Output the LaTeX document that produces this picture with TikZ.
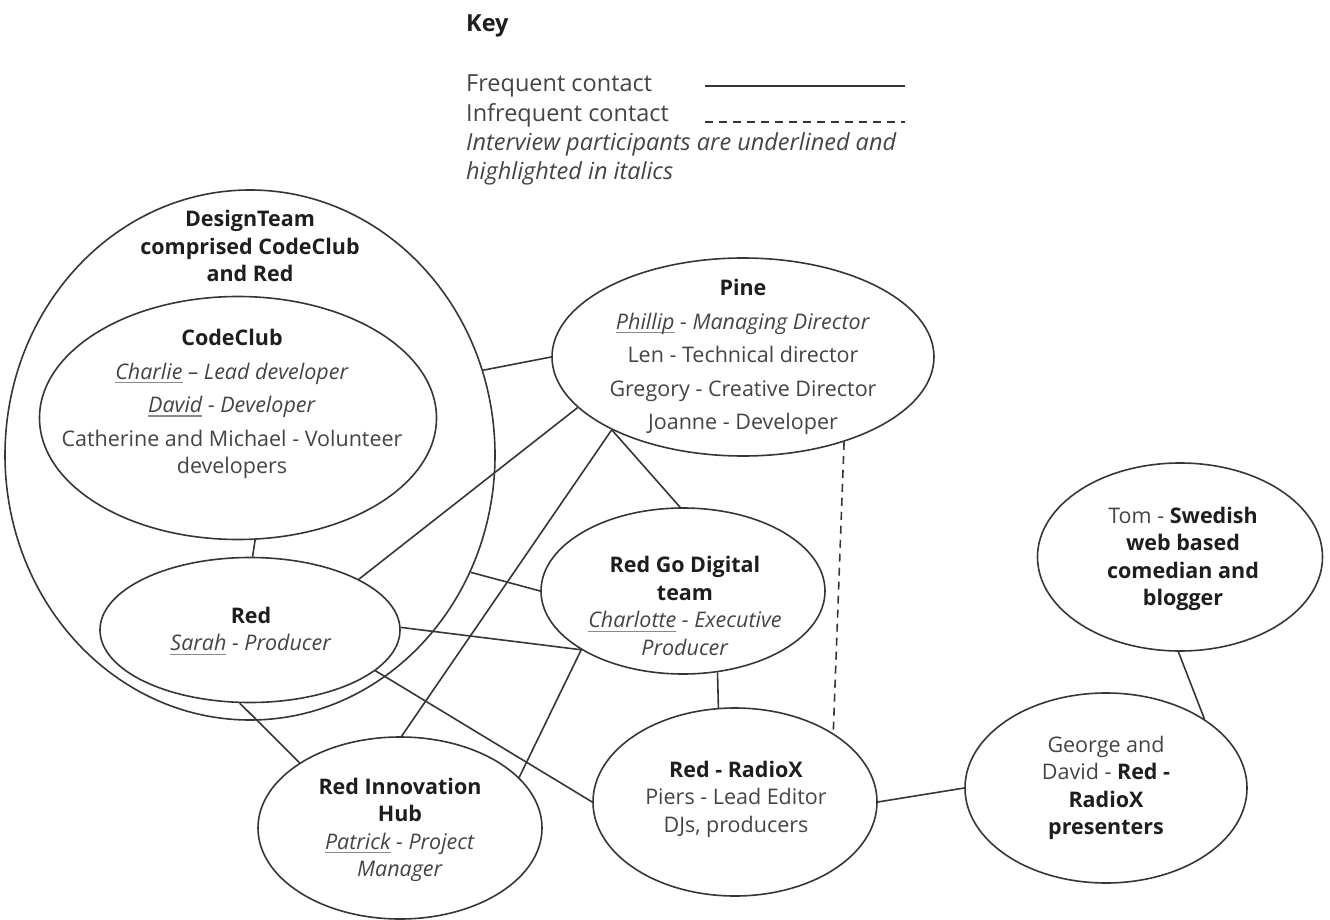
\documentclass[tikz,border=0pt]{standalone}
\usepackage{fontspec}
\setmainfont{Open Sans}
\usetikzlibrary{shapes.geometric}

\definecolor{linecol}{HTML}{363636}
\definecolor{txtcol}{HTML}{444444}
\definecolor{boldcol}{HTML}{1E1E1E}
\definecolor{ulcol}{HTML}{8A8A8A}

% underlined participant name, grey rule under the word
\newsavebox\namebox
\newcommand\uname[1]{\sbox\namebox{#1}\rlap{\textcolor{ulcol}{\rule[-4pt]{\wd\namebox}{1.2pt}}}\usebox\namebox}
\newcommand\hd[1]{\textbf{\textcolor{boldcol}{#1}}}

\begin{document}
\begin{tikzpicture}[x=1pt,y=-1pt,
  oval/.style={ellipse, draw=linecol, line width=1.6pt, inner sep=0pt},
  body/.style={align=center, text=txtcol, font=\fontsize{21.5}{27.5}\selectfont, inner sep=0pt},
  link/.style={draw=linecol, line width=1.6pt},
  weaklink/.style={link, dash pattern=on 8pt off 6pt},
  keytext/.style={text=txtcol, font=\fontsize{23.5}{29.5}\selectfont, inner sep=0pt, anchor=base west},
]
\useasboundingbox (0,0) rectangle (1330,920);

% ---- key ----
\node[keytext] (key) at (466,32) {\hd{Key}};
\node[keytext] (key-freq) at (466,92) {Frequent contact};
\node[keytext] (key-infreq) at (466,122) {Infrequent contact};
\node[keytext] (key-note1) at (466,151) {\itshape Interview participants are underlined and};
\node[keytext] (key-note2) at (466,180) {\itshape highlighted in italics};
\coordinate (kf1) at (705,86);
\coordinate (kf2) at (905,86);
\coordinate (ki1) at (705,122);
\coordinate (ki2) at (905,122);
\draw[link] (kf1) -- (kf2);
\draw[weaklink] (ki1) -- (ki2);

% ---- groups ----
\node[oval, minimum width=490pt, minimum height=530pt] (dt) at (250,455) {};
\node[body] (dt-t) at (250,246) {\hd{DesignTeam}\\\hd{comprised CodeClub}\\\hd{and Red}};

\node[oval, minimum width=397pt, minimum height=243pt] (cc) at (238,418) {};
\node[body] (cc-t) at (232,404) {\hd{CodeClub}\\[6pt]
  \textit{\uname{Charlie} – Lead developer}\\[6pt]
  \textit{\uname{David} - Developer}\\[6pt]
  Catherine and Michael - Volunteer\\developers};

\node[oval, minimum width=300pt, minimum height=145pt] (red) at (250,630) {};
\node[body] (red-t) at (251,631) {\hd{Red}\\\textit{\uname{Sarah} - Producer}};

\node[oval, minimum width=382pt, minimum height=198pt] (pine) at (743,357) {};
\node[body] (pine-t) at (743,357) {\hd{Pine}\\[6pt]
  \textit{\uname{Phillip} - Managing Director}\\[6pt]
  Len - Technical director\\[6pt]
  Gregory - Creative Director\\[6pt]
  Joanne - Developer};

\node[oval, minimum width=284pt, minimum height=166pt] (rgd) at (683,591) {};
\node[body] (rgd-t) at (685,606) {\hd{Red Go Digital}\\\hd{team}\\
  \textit{\uname{Charlotte} - Executive}\\\textit{Producer}};

\node[oval, minimum width=284pt, minimum height=188pt] (radiox) at (735,802) {};
\node[body] (radiox-t) at (736,799) {\hd{Red - RadioX}\\Piers - Lead Editor\\DJs, producers};

\node[oval, minimum width=284pt, minimum height=182pt] (hub) at (400,828) {};
\node[body] (hub-t) at (400,830) {\hd{Red Innovation}\\\hd{Hub}\\
  \textit{\uname{Patrick} - Project}\\\textit{Manager}};

\node[oval, minimum width=285pt, minimum height=188pt] (tom) at (1180,557) {};
\node[body] (tom-t) at (1183,559) {Tom - \hd{Swedish}\\\hd{web based}\\\hd{comedian and}\\\hd{blogger}};

\node[oval, minimum width=282pt, minimum height=190pt] (george) at (1106,788) {};
\node[body] (george-t) at (1106,788) {George and\\David - \hd{Red -}\\\hd{RadioX}\\\hd{presenters}};

% ---- contacts ----
\draw[link] (dt.20) -- (pine.180);
\draw[link] (cc.278) -- (red.88);
\draw[link] (red.25) -- (pine.197);
\draw[link] (dt.332) -- (rgd.180);
\draw[link] (red.1) -- (rgd.210);
\draw[link] (red.342) -- (radiox.180);
\draw[link] (red.262) -- (hub.147);
\draw[link] (hub.89) -- (pine.209);
\draw[link] (hub.23) -- (rgd.210);
\draw[link] (pine.209) -- (rgd.92);
\draw[link] (rgd.293) -- (radiox.100);
\draw[weaklink] (pine.320) -- (radiox.35);
\draw[link] (radiox.0) -- (george.180);
\draw[link] (george.35) -- (tom.269);
\end{tikzpicture}
\end{document}
